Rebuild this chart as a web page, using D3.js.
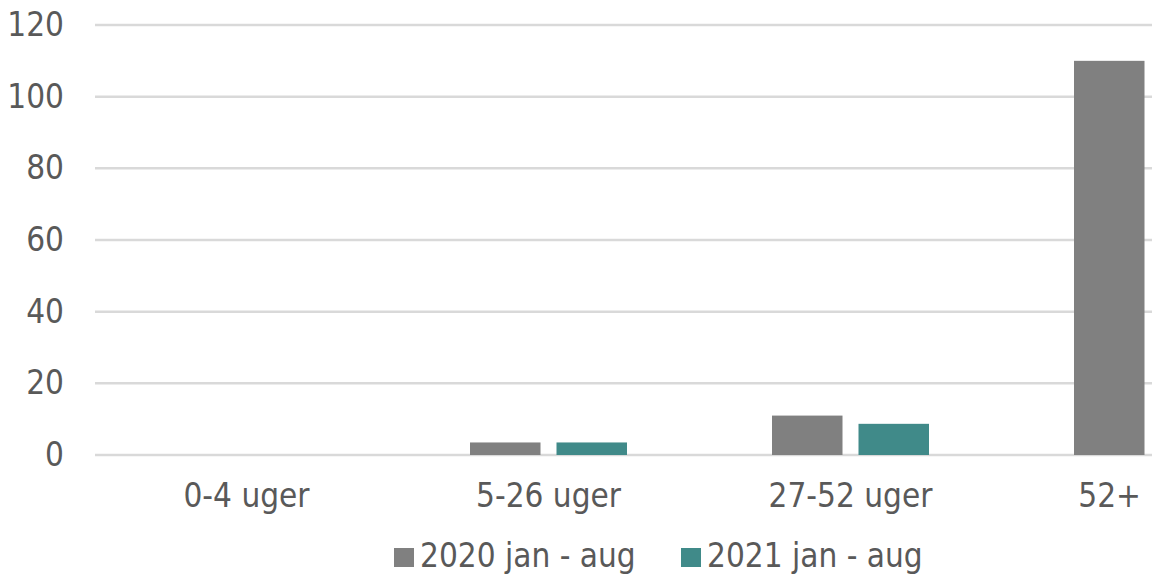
<!DOCTYPE html>
<html>
<head>
<meta charset="utf-8">
<script src="https://cdn.jsdelivr.net/npm/d3@7/dist/d3.min.js"></script>
<style>
  html, body { margin: 0; padding: 0; background: #ffffff; }
  svg { display: block; }
  text { font-family: "DejaVu Sans Condensed", "DejaVu Sans", sans-serif; }
</style>
</head>
<body>
<svg id="chart" width="1152" height="575"></svg>
<script>
const categories = ["0-4 uger", "5-26 uger", "27-52 uger", "52+"];
const seriesNames = ["2020 jan - aug", "2021 jan - aug"];
const values2020 = [0, 3.5, 11, 110];
const values2021 = [0, 3.5, 8.7, null];
const yTicks = [0, 20, 40, 60, 80, 100, 120];
const colors = ["#808080", "#408a89"];

const W = 1152, H = 575;
const svg = d3.select("#chart");
svg.append("rect").attr("width", W).attr("height", H).attr("fill", "#ffffff");

const fontSize = 33;
const textColor = "#595959";

const y = d3.scaleLinear().domain([0, 120]).range([455, 25]);
const x0 = d3.scaleBand().domain(categories).range([95.5, 1303.5]).padding(0);
const groupW = 157;
const x1 = d3.scaleBand().domain(seriesNames)
  .range([x0.bandwidth() / 2 - groupW / 2, x0.bandwidth() / 2 + groupW / 2])
  .paddingInner(16 / 86.5).paddingOuter(0);

// gridlines
svg.append("g").selectAll("line").data(yTicks).join("line")
  .attr("x1", 95).attr("x2", W)
  .attr("y1", d => y(d)).attr("y2", d => y(d))
  .attr("stroke", "#d9d9d9").attr("stroke-width", 2.5);

// y axis labels
const yAxis = d3.axisLeft(y).tickValues(yTicks).tickSize(0).tickPadding(0);
const gy = svg.append("g").attr("transform", "translate(64,0)").call(yAxis);
gy.select(".domain").remove();
gy.selectAll("text")
  .attr("font-size", fontSize).attr("fill", textColor)
  .attr("font-family", "DejaVu Sans Condensed")
  .attr("x", 0).attr("dy", "0.32em").attr("text-anchor", "end");

// bars
const data = categories.map((c, i) => ({ cat: c, vals: [values2020[i], values2021[i]] }));
const groups = svg.append("g").selectAll("g").data(data).join("g")
  .attr("transform", d => `translate(${x0(d.cat)},0)`);
groups.selectAll("rect")
  .data(d => d.vals.map((v, j) => ({ s: seriesNames[j], v, j })).filter(e => e.v !== null && e.v > 0))
  .join("rect")
  .attr("x", e => x1(e.s))
  .attr("width", x1.bandwidth())
  .attr("y", e => y(e.v))
  .attr("height", e => y(0) - y(e.v))
  .attr("fill", e => colors[e.j]);

// x axis labels
const xAxis = d3.axisBottom(x0).tickSize(0).tickPadding(0);
const gx = svg.append("g").attr("transform", `translate(0,${y(0)})`).call(xAxis);
gx.select(".domain").remove();
gx.selectAll("text")
  .attr("font-size", fontSize).attr("fill", textColor)
  .attr("font-family", "DejaVu Sans Condensed")
  .attr("y", 52).attr("dy", 0);
// last label is pushed inside the visible area (as in the original)
gx.selectAll(".tick").filter(d => d === "52+").select("text")
  .attr("text-anchor", "end")
  .attr("x", W - 11 - x0("52+") - x0.bandwidth() / 2);

// legend
const legend = svg.append("g");
const legendX = [394, 681];
seriesNames.forEach((s, i) => {
  legend.append("rect").attr("x", legendX[i]).attr("y", 548)
    .attr("width", 20).attr("height", 19).attr("fill", colors[i]);
  legend.append("text").attr("x", legendX[i] + 26).attr("y", 567)
    .attr("font-size", fontSize).attr("fill", textColor)
    .text(s);
});
</script>
</body>
</html>
